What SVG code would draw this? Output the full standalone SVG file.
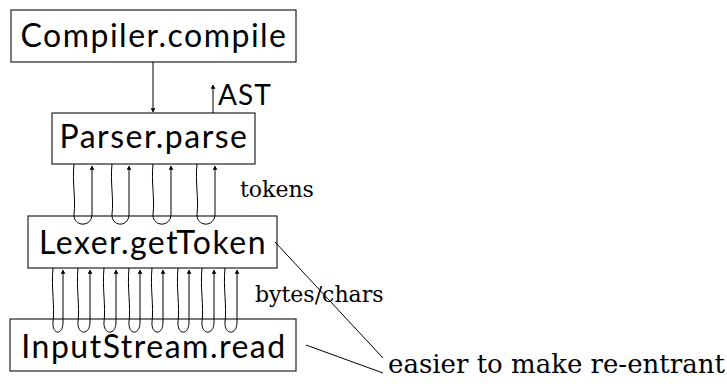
<svg xmlns="http://www.w3.org/2000/svg" width="727" height="384" viewBox="0 0 727 384">
<defs>
<style>
.box{fill:#fff;stroke:#222;stroke-width:1.2}
.lbl{font-family:Lato,"Open Sans",sans-serif;font-size:32px;letter-spacing:1.5px;fill:#000;text-anchor:middle}
.ser{font-family:"DejaVu Serif","Liberation Serif",serif;font-size:22px;fill:#000}
.ln{fill:none;stroke:#000;stroke-width:1}
</style>
<marker id="ah" viewBox="0 0 8 10" refX="7.5" refY="5" markerWidth="4" markerHeight="5" orient="auto" markerUnits="userSpaceOnUse">
<path d="M0,0 L8,5 L0,10 z" fill="#000"/>
</marker>
</defs>
<g id="compiler">
<rect class="box" x="11" y="10" width="285" height="52"/>
<text class="lbl" x="154" y="47">Compiler.compile</text>
</g>
<g id="parser">
<rect class="box" x="52" y="113" width="203" height="51"/>
<text class="lbl" x="154" y="148">Parser.parse</text>
</g>
<g id="lexer">
<rect class="box" x="28" y="216" width="249" height="52"/>
<text class="lbl" x="153" y="254">Lexer.getToken</text>
</g>
<g id="inputstream">
<rect class="box" x="10" y="319" width="286" height="52"/>
<text class="lbl" x="154" y="358">InputStream.read</text>
</g>
<g id="connectors">
<line class="ln" x1="153" y1="62" x2="153" y2="112" marker-end="url(#ah)"/>
<line class="ln" x1="213" y1="113" x2="213" y2="85" marker-end="url(#ah)"/>
<path class="ln" d="M74 164 C72 182,76 200,74 214 C73 227,92 228,92 214 L92 166" marker-end="url(#ah)"/>
<path class="ln" d="M112 164 C110 182,114 200,112 214 C111 227,129 228,129 214 L129 166" marker-end="url(#ah)"/>
<path class="ln" d="M153 164 C151 182,155 200,153 214 C152 227,171 228,171 214 L171 166" marker-end="url(#ah)"/>
<path class="ln" d="M197 164 C195 182,199 200,197 214 C196 227,215 228,215 214 L215 166" marker-end="url(#ah)"/>
<path class="ln" d="M53 268 C51 288,55 306,53 322 C52 335,63 336,63 322 L63 270" marker-end="url(#ah)"/>
<path class="ln" d="M78 268 C76 288,80 306,78 322 C77 335,90 336,90 322 L90 270" marker-end="url(#ah)"/>
<path class="ln" d="M104 268 C102 288,106 306,104 322 C103 335,116 336,116 322 L116 270" marker-end="url(#ah)"/>
<path class="ln" d="M129 268 C127 288,131 306,129 322 C128 335,140 336,140 322 L140 270" marker-end="url(#ah)"/>
<path class="ln" d="M152 268 C150 288,154 306,152 322 C151 335,163 336,163 322 L163 270" marker-end="url(#ah)"/>
<path class="ln" d="M178 268 C176 288,180 306,178 322 C177 335,189 336,189 322 L189 270" marker-end="url(#ah)"/>
<path class="ln" d="M202 268 C200 288,204 306,202 322 C201 335,214 336,214 322 L214 270" marker-end="url(#ah)"/>
<path class="ln" d="M225 268 C223 288,227 306,225 322 C224 335,237 336,237 322 L237 270" marker-end="url(#ah)"/>
<line class="ln" x1="275" y1="242" x2="383" y2="358"/>
<line class="ln" x1="306" y1="345" x2="383" y2="373"/>
</g>
<g id="labels">
<text x="218" y="105" style="font-family:Lato,'Open Sans',sans-serif;font-size:28px;letter-spacing:1px;fill:#000">AST</text>
<text class="ser" x="240" y="197">tokens</text>
<text class="ser" x="255" y="302">bytes/chars</text>
<text class="ser" x="388" y="373" style="font-size:26px">easier to make re-entrant</text>
</g>
</svg>
